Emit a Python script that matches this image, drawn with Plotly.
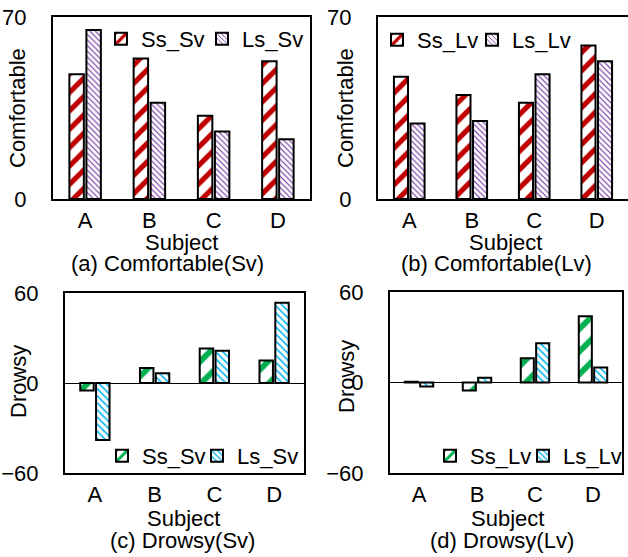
import plotly.graph_objects as go

W, H = 628, 557
subjects = ["A", "B", "C", "D"]

comf_ss_sv = [48, 54, 32, 53]
comf_ls_sv = [65, 37, 26, 23]
comf_ss_lv = [47, 40, 37, 59]
comf_ls_lv = [29, 30, 48, 53]
drow_ss_sv = [-5, 10, 23, 15]
drow_ls_sv = [-38, 6.5, 21.5, 53.5]
drow_ss_lv = [0.5, -5.3, 16, 44]
drow_ls_lv = [-2.7, 3.1, 26, 10]

comf_ticks = [0, 70]
drow_ticks = [-60, 0, 60]

RED = "#C00000"
PURPLE = "#7030A0"
GREEN = "#00B050"
BLUE = "#00B0F0"
FONT = "Liberation Sans, Arial, sans-serif"
FS = 22

def px_x(v):
    return v / W

def px_y(v):
    return 1 - v / H

fig = go.Figure()

def bar(y, name, fg, shape, size, sol, xa, ya, leg):
    fig.add_trace(go.Bar(
        x=subjects, y=y, name=name, xaxis=xa, yaxis=ya, legend=leg,
        marker=dict(color="white",
                    line=dict(color="black", width=2),
                    pattern=dict(shape=shape, fgcolor=fg, bgcolor="white",
                                 size=size, solidity=sol, fillmode="replace")),
    ))

bar(comf_ss_sv, "Ss_Sv", RED, "/", 13, 0.4, "x", "y", "legend")
bar(comf_ls_sv, "Ls_Sv", PURPLE, "\\", 4, 0.28, "x", "y", "legend2")
bar(comf_ss_lv, "Ss_Lv", RED, "/", 13, 0.4, "x2", "y2", "legend3")
bar(comf_ls_lv, "Ls_Lv", PURPLE, "\\", 4, 0.28, "x2", "y2", "legend4")
bar(drow_ss_sv, "Ss_Sv", GREEN, "/", 16, 0.36, "x3", "y3", "legend5")
bar(drow_ls_sv, "Ls_Sv", BLUE, "\\", 5, 0.3, "x3", "y3", "legend6")
bar(drow_ss_lv, "Ss_Lv", GREEN, "/", 16, 0.36, "x4", "y4", "legend7")
bar(drow_ls_lv, "Ls_Lv", BLUE, "\\", 5, 0.3, "x4", "y4", "legend8")

doms = {
    1: ([53, 310], [17, 199]),
    2: ([378, 628], [17, 199]),
    3: ([65, 304], [293, 473]),
    4: ([390, 622], [292, 473]),
}

tickfont = dict(family=FONT, size=FS, color="black")
layout = {}
for i in range(1, 5):
    (x0, x1), (y0, y1) = doms[i]
    sfx = "" if i == 1 else str(i)
    comf = i <= 2
    layout["xaxis" + sfx] = dict(
        domain=[px_x(x0), min(1.0, px_x(x1))],
        anchor="y" + sfx,
        type="category",
        range=[-0.5, 3.5],
        showline=True, linecolor="black", linewidth=2, mirror=True,
        showgrid=False, ticks="", tickfont=tickfont,
        ticklabelstandoff=1, automargin=False,
    )
    layout["yaxis" + sfx] = dict(
        domain=[px_y(y1), px_y(y0)],
        anchor="x" + sfx,
        range=[0, 70] if comf else [-60, 60],
        tickvals=comf_ticks if comf else drow_ticks,
        showline=True, linecolor="black", linewidth=2,
        mirror=(i != 2),
        showgrid=False, ticks="", tickfont=tickfont,
        zeroline=not comf, zerolinecolor="black", zerolinewidth=1,
        ticklabelstandoff=20, automargin=False,
    )

legfont = dict(family=FONT, size=FS, color="black")
# (swatch left x, centre y) for each single-entry legend
legpos = {
    "legend": (116, 39),
    "legend2": (217, 39),
    "legend3": (392, 40),
    "legend4": (487, 40),
    "legend5": (117, 456),
    "legend6": (212, 456),
    "legend7": (445, 456),
    "legend8": (538, 456),
}
for k, (lx, ly) in legpos.items():
    layout[k] = dict(orientation="h", x=px_x(lx - 15), y=px_y(ly),
                     xref="container", yref="container",
                     xanchor="left", yanchor="middle",
                     bgcolor="rgba(0,0,0,0)", font=legfont,
                     itemwidth=30, tracegroupgap=0)

annots = []
def ann(text, x, y, angle=0):
    annots.append(dict(text=text, x=px_x(x), y=px_y(y), xref="paper", yref="paper",
                       xanchor="center", yanchor="middle", showarrow=False,
                       textangle=angle, font=dict(family=FONT, size=FS, color="black")))

ann("Subject", 181, 242)
ann("(a) Comfortable(Sv)", 167, 263)
ann("Subject", 505, 242)
ann("(b) Comfortable(Lv)", 496, 263)
ann("Subject", 183, 518)
ann("(c) Drowsy(Sv)", 182, 540)
ann("Subject", 507, 518)
ann("(d) Drowsy(Lv)", 502, 540)
ann("Comfortable", 18, 108, -90)
ann("Comfortable", 346, 108, -90)
ann("Drowsy", 19, 382, -90)
ann("Drowsy", 346, 377, -90)

fig.update_layout(
    width=W, height=H,
    margin=dict(l=0, r=0, t=0, b=0, autoexpand=False),
    paper_bgcolor="white", plot_bgcolor="white",
    bargap=0.47, bargroupgap=0.15,
    barmode="group",
    showlegend=True,
    annotations=annots,
    **layout,
)

fig.write_html("out.html", config={"displayModeBar": False},
               post_script="document.body.style.margin='0';")
